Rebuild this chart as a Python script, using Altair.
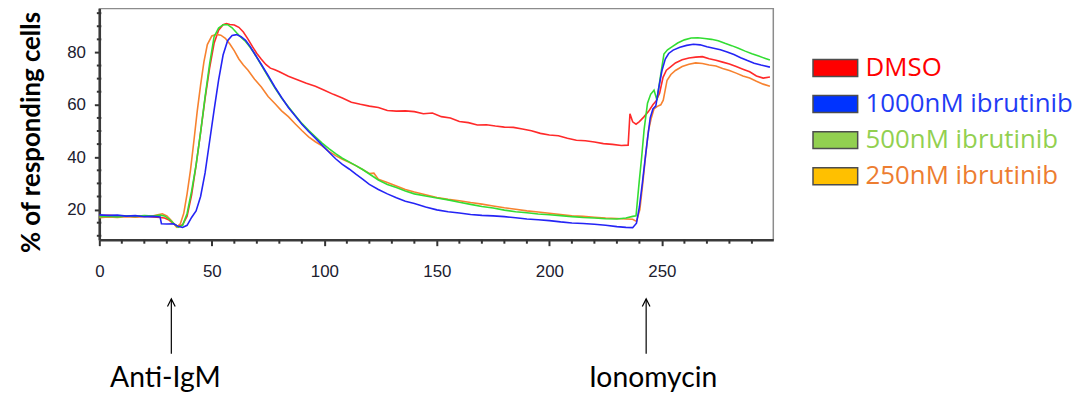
import altair as alt
import pandas as pd

# ---------------- data ----------------
series_names = ["DMSO", "1000nM ibrutinib", "500nM ibrutinib", "250nM ibrutinib"]
line_colors = ["#ff2a2a", "#2424f5", "#33dd33", "#f7822f"]
swatch_colors = ["#ff0000", "#0033ff", "#92d050", "#ffc000"]
text_colors = ["#ff0000", "#1f3cf5", "#92d050", "#ed7d31"]
draw_order = ["DMSO", "250nM ibrutinib", "500nM ibrutinib", "1000nM ibrutinib"]

dmso_t = [0, 4, 8, 12, 16, 20, 24, 27, 29, 31, 33, 35, 37, 39, 41, 43, 45, 47, 49, 51, 53, 55, 56.5, 58, 60,
          62, 64, 66, 68, 70, 72, 74, 76, 78, 80, 84, 88, 92, 96, 100, 104, 108, 112, 116, 120, 124, 128, 132,
          136, 140, 144, 148, 152, 156, 160, 164, 168, 172, 176, 180, 184, 188, 192, 196, 200, 204, 208, 212,
          216, 220, 224, 228, 232, 235, 235.8, 237, 238.5, 240, 242, 244, 246, 247.5, 249, 250.5, 252, 254,
          256, 259, 262, 265, 268, 271, 274, 277, 280, 283, 286, 289, 292, 295, 298]
dmso_v = [17.6, 17.8, 17.5, 17.6, 17.3, 17.5, 17.2, 17.0, 16.8, 16.0, 14.6, 13.6, 14.2, 17.5, 25.5, 37, 49.5,
          62.5, 74, 83.5, 88.5, 90.6, 91.0, 90.7, 90.5, 89.6, 87.8, 85.2, 82.3, 79.6, 77.4, 75.4, 74.0, 73.4,
          72.6, 70.9, 69.6, 68.2, 67.1, 65.6, 64.0, 62.6, 61.0, 60.2, 59.5, 59.0, 57.8, 57.6, 57.7, 57.4, 56.6,
          56.9, 55.5, 55.0, 53.6, 53.2, 52.3, 52.4, 51.9, 51.5, 51.4, 50.8, 50.1, 49.1, 48.5, 48.2, 47.2, 46.5,
          46.3, 45.8, 45.2, 44.9, 44.5, 44.6, 56.6, 53.5, 52.6, 53.6, 55.4, 57.4, 60.0, 61.6, 64.5, 70.5, 73.2,
          74.6, 76.0, 77.2, 77.9, 78.2, 78.4, 77.6, 77.0, 76.3, 75.6, 74.6, 73.6, 72.6, 71.0, 70.2, 70.6]

ibr1000_t = [0, 4, 8, 12, 16, 20, 24, 27, 27.6, 30, 33, 35, 37, 39, 41, 43, 45, 47, 49, 51, 53, 55, 57, 59, 61,
             63, 65, 67, 69, 72, 75, 78, 81, 84, 87, 90, 93, 96, 99, 102, 105, 108, 111, 114, 117, 120, 124,
             128, 132, 136, 140, 145, 150, 155, 160, 165, 170, 175, 180, 185, 190, 195, 200, 205, 210, 215,
             220, 225, 230, 234, 237, 238.7, 240, 241.3, 242.5, 243.6, 244.8, 246, 247.3, 248.5, 250, 251.5,
             253, 255, 258, 261, 264, 267, 270, 273, 276, 279, 282, 285, 288, 291, 294, 298]
ibr1000_v = [18.0, 17.8, 17.9, 17.5, 17.7, 17.3, 17.4, 17.2, 14.6, 14.5, 14.6, 13.6, 13.2, 14.0, 17.0, 19.5,
             25.0, 34.0, 46.0, 58.0, 69.4, 79.0, 84.5, 86.5, 86.8, 86.0, 84.6, 82.3, 79.5, 75.4, 71.2, 66.8,
             62.8, 59.0, 55.8, 52.6, 49.8, 47.3, 44.6, 42.0, 39.4, 37.3, 35.5, 33.5, 31.6, 29.6, 27.7, 26.0,
             24.5, 23.2, 22.3, 21.0, 19.9, 19.2, 18.7, 18.1, 17.8, 17.6, 17.3, 16.9, 16.4, 16.1, 15.8, 15.3,
             14.9, 14.7, 14.4, 14.0, 13.5, 13.2, 13.1, 14.8, 21, 30, 39, 47, 55, 58.4, 59.6, 66, 73, 77.5, 79.6,
             80.9, 82.0, 82.7, 83.1, 82.9, 82.2, 81.6, 81.0, 80.2, 79.2, 78.0, 76.9, 75.9, 75.2, 74.4]

ibr500_t = [0, 4, 8, 12, 16, 20, 24, 27, 29, 31, 33, 35, 37, 39, 41, 43, 45, 47, 49, 51, 53, 55, 57, 59, 61,
            63, 65, 67, 69, 72, 75, 78, 81, 84, 87, 90, 93, 96, 99, 102, 105, 108, 111, 114, 117, 120, 124,
            128, 132, 136, 140, 145, 150, 155, 160, 165, 170, 175, 180, 185, 190, 195, 200, 205, 210, 215,
            220, 225, 230, 234, 237, 238.5, 239.9, 241, 242.1, 243.6, 245, 246.5, 247.8, 249.2, 250.9, 252.5,
            254.6, 257, 260, 263, 266, 269, 272, 275, 278, 281, 284, 287, 290, 293, 296, 298]
ibr500_v = [17.3, 17.5, 17.2, 17.6, 17.4, 17.7, 17.5, 17.9, 17.6, 16.4, 14.8, 13.2, 14.0, 18.5, 27, 37, 49.5,
            63, 75.5, 86, 89.3, 90.6, 90.6, 89.4, 87.5, 85.7, 84.2, 82.0, 79.5, 75.2, 70.8, 66.5, 62.6, 59.3,
            56.0, 52.9, 50.3, 47.8, 45.4, 43.3, 41.4, 39.6, 38.2, 36.8, 35.3, 33.6, 31.3, 29.6, 28.4, 27.1,
            26.0, 25.2, 24.4, 23.7, 22.8, 22.0, 21.2, 20.6, 19.8, 19.2, 18.8, 18.3, 18.0, 17.7, 17.3, 17.0,
            16.8, 16.5, 16.4, 16.8, 17.4, 17.6, 30.6, 40, 50.6, 60.6, 64, 65.6, 61.8, 70, 79.4, 81, 82.2, 83.6,
            84.8, 85.5, 85.6, 85.3, 85.0, 84.5, 83.5, 82.6, 81.6, 80.5, 79.5, 78.6, 77.7, 77.1]

ibr250_t = [0, 4, 8, 12, 16, 20, 24, 26, 28, 30, 32, 34.3, 36, 37.5, 39, 40.5, 42, 43.5, 45, 46.5, 48, 50, 52,
            54, 56, 58, 60, 62, 64, 66, 69, 72, 75, 78, 81, 84, 87, 90, 93, 96, 99, 102, 105, 108, 111, 114,
            117, 120, 122, 124, 128, 132, 136, 140, 145, 150, 155, 160, 165, 170, 175, 180, 185, 190, 195, 200,
            205, 210, 215, 220, 225, 230, 234, 237, 238.7, 240.2, 241.5, 242.8, 244, 245.3, 246.5, 248, 249.5,
            250.6, 252.3, 254, 256, 259, 262, 265, 268, 271, 274, 277, 280, 283, 286, 289, 292, 295, 298]
ibr250_v = [16.9, 17.2, 17.0, 17.3, 17.1, 17.4, 17.6, 18.0, 18.4, 17.6, 15.8, 13.3, 14.6, 18.5, 26, 35, 46,
            57.5, 67.5, 76.5, 83, 86.3, 86.9, 86.6, 85.4, 83.2, 80.6, 77.5, 75.2, 73.3, 69.8, 66.8, 63.2, 60.5,
            57.7, 55.5, 52.8, 50.2, 47.8, 45.9, 44.3, 42.2, 40.6, 39.2, 38.1, 36.8, 35.3, 33.8, 33.9, 31.6,
            30.3, 29.0, 27.7, 26.7, 25.7, 24.6, 23.9, 23.4, 22.7, 22.1, 21.4, 20.7, 20.1, 19.5, 19.1, 18.6,
            18.1, 17.6, 17.4, 17.1, 16.8, 16.6, 16.4, 16.3, 15.5, 20, 30, 41, 50, 55, 58.5, 59.4, 60.0, 61.8,
            69.4, 71.6, 73.1, 74.6, 75.5, 76.0, 75.8, 75.2, 74.8, 73.9, 73.1, 72.1, 71.0, 70.2, 69.0, 67.9, 67.1]

x_major = [0, 50, 100, 150, 200, 250]
x_minor = [10, 20, 30, 40, 60, 70, 80, 90, 110, 120, 130, 140, 160, 170, 180, 190, 210, 220, 230, 240,
           260, 270, 280, 290]
y_major = [20, 40, 60, 80]
y_minor = [10, 15, 25, 30, 35, 45, 50, 55, 65, 70, 75, 85, 90, 95]

event_names = ["Anti-IgM", "Ionomycin"]
event_t = [32, 243]

# ---------------- tables ----------------
rows = []
for name, ts, vs in [("DMSO", dmso_t, dmso_v), ("1000nM ibrutinib", ibr1000_t, ibr1000_v),
                     ("500nM ibrutinib", ibr500_t, ibr500_v), ("250nM ibrutinib", ibr250_t, ibr250_v)]:
    for t, v in zip(ts, vs):
        rows.append({"series": name, "t": t, "v": v})
df = pd.DataFrame(rows)

W, H = 679, 233
x_scale = alt.Scale(domain=[0, 299.5], nice=False, zero=False)
y_scale = alt.Scale(domain=[8.5, 96.8], nice=False, zero=False)
color_scale = alt.Scale(domain=series_names, range=line_colors)

x_axis = alt.Axis(values=x_major, title=None, grid=False, labelFont="Liberation Sans", labelFontSize=17,
                  labelColor="#20202e", tickSize=6, tickWidth=2, tickColor="#333333", labelPadding=18,
                  domainColor="#3a3a3a", domainWidth=2.5, labelFlush=False)
y_axis = alt.Axis(values=y_major, title="% of responding cells", grid=False, labelFont="Liberation Sans",
                  labelFontSize=17, labelColor="#20202e", tickSize=5, tickWidth=2, tickColor="#333333",
                  labelPadding=9, domainColor="#3a3a3a", domainWidth=2.5, titleFont="Lato",
                  titleFontSize=26, titleFontWeight="bold", titleColor="#000000", titlePadding=22,
                  titleY=124.5)

X = alt.X("t:Q", scale=x_scale, axis=x_axis)
Y = alt.Y("v:Q", scale=y_scale, axis=y_axis)

layers = []
for name in draw_order:
    layers.append(
        alt.Chart(df).transform_filter(alt.datum.series == name)
        .mark_line(strokeWidth=1.6, interpolate="linear")
        .encode(x=X, y=Y, color=alt.Color("series:N", scale=color_scale, legend=None))
    )

ymin_df = pd.DataFrame({"v": y_minor})
xmin_df = pd.DataFrame({"t": x_minor})
layers.append(alt.Chart(ymin_df).mark_rule(color="#333333", strokeWidth=2)
              .encode(y=Y, x=alt.value(-2.5), x2=alt.value(2)))
layers.append(alt.Chart(xmin_df).mark_rule(color="#333333", strokeWidth=2)
              .encode(x=X, y=alt.value(H), y2=alt.value(H + 4)))

ev_df = pd.DataFrame({"event": event_names, "t": event_t})
layers.append(alt.Chart(ev_df).mark_rule(color="#000000", strokeWidth=1.2)
              .encode(x=X, y=alt.value(293), y2=alt.value(348)))
layers.append(alt.Chart(ev_df).mark_point(shape="M-1,1L0,-1L1,1", filled=False, size=60,
                                          color="#000000", strokeWidth=1.2, opacity=1)
              .encode(x=X, y=alt.value(296.5)))
for name, dx in zip(event_names, [-6, 7]):
    layers.append(alt.Chart(ev_df).transform_filter(alt.datum.event == name)
                  .mark_text(font="Lato", fontSize=28.5, color="#000000", align="center",
                             baseline="middle", dx=dx)
                  .encode(x=X, y=alt.value(372), text="event:N"))

main = alt.layer(*layers).properties(width=W, height=H)

leg_df = pd.DataFrame({"series": series_names, "idx": [0, 1, 2, 3],
                       "swatch": swatch_colors, "tcolor": text_colors})
leg_y = alt.Y("idx:Q", scale=alt.Scale(domain=[0, 3], range=[60, 169]), axis=None)
swatches = alt.Chart(leg_df).mark_point(shape="M-1,-0.38H1V0.38H-1Z", size=2025, filled=True,
                                        stroke="#4d4d4d", strokeWidth=1.5, opacity=1).encode(
    x=alt.value(22.5), y=leg_y, fill=alt.Fill("swatch:N", scale=None))
labels = alt.Chart(leg_df).mark_text(align="left", baseline="middle", font="Open Sans", fontSize=26).encode(
    x=alt.value(53), y=leg_y, text="series:N", color=alt.Color("tcolor:N", scale=None))
legend = alt.layer(swatches, labels).properties(width=270, height=H,
                                                view=alt.ViewBackground(stroke="transparent"))

chart = alt.hconcat(main, legend, spacing=35).properties(
    padding={"left": 10, "top": -2, "right": 0, "bottom": 0}
).configure_view(stroke="#8c8c8c", strokeWidth=1.5)

chart.save("out.html", embed_options={"renderer": "svg", "actions": False})
